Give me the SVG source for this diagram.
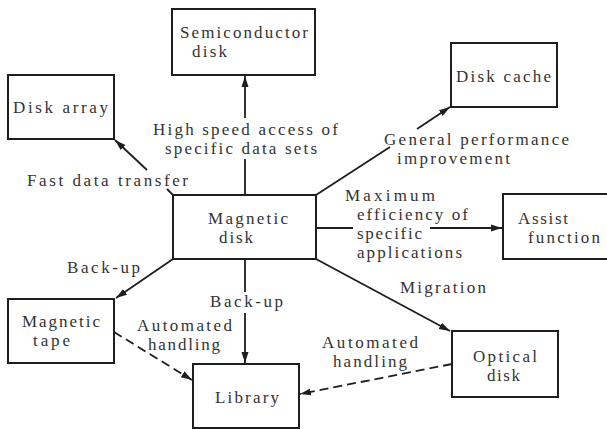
<svg xmlns="http://www.w3.org/2000/svg" width="607" height="430" viewBox="0 0 607 430">
  <style>
    .box { fill: #ffffff; stroke: #1e1e1e; stroke-width: 2; }
    .txt { font-family: "Liberation Serif", "Times New Roman", serif; font-size: 17px; fill: #333333; }
    .ln { fill: none; stroke: #1e1e1e; stroke-width: 1.8; }
    .dash { stroke-dasharray: 9 5; }
  </style>
  <defs>
    <marker id="arrow" markerUnits="userSpaceOnUse" markerWidth="12" markerHeight="10" refX="11" refY="5" orient="auto">
      <path d="M0,1.5 L11,5 L0,8.5 Z" fill="#1e1e1e"/>
    </marker>
  </defs>
  <rect width="607" height="430" fill="#ffffff"/>

  <!-- connectors, broken where their labels sit -->
  <g id="connectors">
    <line class="ln" x1="245" y1="195" x2="245" y2="159"/>
    <line class="ln" x1="245" y1="118" x2="245" y2="76" marker-end="url(#arrow)"/>

    <line class="ln" x1="173" y1="195" x2="167" y2="189"/>
    <line class="ln" x1="147" y1="170" x2="115" y2="140" marker-end="url(#arrow)"/>

    <line class="ln" x1="316" y1="195" x2="390" y2="147"/>
    <line class="ln" x1="417" y1="129" x2="450" y2="107" marker-end="url(#arrow)"/>

    <line class="ln" x1="316" y1="228" x2="353" y2="228"/>
    <line class="ln" x1="430" y1="228" x2="502" y2="228" marker-end="url(#arrow)"/>

    <line class="ln" x1="316" y1="259" x2="450" y2="331" marker-end="url(#arrow)"/>

    <line class="ln" x1="173" y1="259" x2="116" y2="298" marker-end="url(#arrow)"/>

    <line class="ln" x1="245" y1="259" x2="245" y2="292"/>
    <line class="ln" x1="245" y1="313" x2="245" y2="363" marker-end="url(#arrow)"/>

    <line class="ln dash" x1="114" y1="332" x2="192" y2="380" marker-end="url(#arrow)"/>
    <line class="ln dash" x1="452" y1="364" x2="300" y2="394" marker-end="url(#arrow)"/>

    <!-- connector labels -->
    <text class="txt" x="153" y="135" textLength="185" lengthAdjust="spacing">High speed access of</text>
    <text class="txt" x="165" y="154" textLength="152" lengthAdjust="spacing">specific data sets</text>
    <text class="txt" x="27" y="186" textLength="161" lengthAdjust="spacing">Fast data transfer</text>
    <text class="txt" x="384" y="145" textLength="185" lengthAdjust="spacing">General performance</text>
    <text class="txt" x="397" y="164" textLength="113" lengthAdjust="spacing">improvement</text>
    <text class="txt" x="345" y="201" textLength="90" lengthAdjust="spacing">Maximum</text>
    <text class="txt" x="357" y="220" textLength="111" lengthAdjust="spacing">efficiency of</text>
    <text class="txt" x="357" y="239" textLength="65" lengthAdjust="spacing">specific</text>
    <text class="txt" x="357" y="258" textLength="105" lengthAdjust="spacing">applications</text>
    <text class="txt" x="400" y="293" textLength="86" lengthAdjust="spacing">Migration</text>
    <text class="txt" x="67" y="273" textLength="73" lengthAdjust="spacing">Back-up</text>
    <text class="txt" x="210" y="307" textLength="73" lengthAdjust="spacing">Back-up</text>
    <text class="txt" x="137" y="331" textLength="95" lengthAdjust="spacing">Automated</text>
    <text class="txt" x="148" y="350" textLength="72" lengthAdjust="spacing">handling</text>
    <text class="txt" x="322" y="348" textLength="96" lengthAdjust="spacing">Automated</text>
    <text class="txt" x="333" y="367" textLength="74" lengthAdjust="spacing">handling</text>
  </g>

  <g id="semiconductor-disk">
    <rect class="box" x="172" y="9" width="143" height="66"/>
    <text class="txt" x="180" y="38" textLength="128" lengthAdjust="spacing">Semiconductor</text>
    <text class="txt" x="192" y="57" textLength="35" lengthAdjust="spacing">disk</text>
  </g>

  <g id="disk-array">
    <rect class="box" x="8" y="75" width="106" height="64"/>
    <text class="txt" x="13" y="113" textLength="95" lengthAdjust="spacing">Disk array</text>
  </g>

  <g id="disk-cache">
    <rect class="box" x="451" y="43" width="106" height="64"/>
    <text class="txt" x="456" y="82" textLength="95" lengthAdjust="spacing">Disk cache</text>
  </g>

  <g id="magnetic-disk">
    <rect class="box" x="173" y="195" width="143" height="64"/>
    <text class="txt" x="208" y="224" textLength="80" lengthAdjust="spacing">Magnetic</text>
    <text class="txt" x="219" y="243" textLength="34" lengthAdjust="spacing">disk</text>
  </g>

  <g id="assist-function">
    <rect class="box" x="503" y="194" width="110" height="65"/>
    <text class="txt" x="518" y="224" textLength="50" lengthAdjust="spacing">Assist</text>
    <text class="txt" x="528" y="243" textLength="72" lengthAdjust="spacing">function</text>
  </g>

  <g id="magnetic-tape">
    <rect class="box" x="8" y="299" width="106" height="64"/>
    <text class="txt" x="22" y="327" textLength="78" lengthAdjust="spacing">Magnetic</text>
    <text class="txt" x="33" y="346" textLength="37" lengthAdjust="spacing">tape</text>
  </g>

  <g id="library">
    <rect class="box" x="193" y="364" width="106" height="64"/>
    <text class="txt" x="215" y="403" textLength="64" lengthAdjust="spacing">Library</text>
  </g>

  <g id="optical-disk">
    <rect class="box" x="452" y="331" width="106" height="66"/>
    <text class="txt" x="473" y="362" textLength="64" lengthAdjust="spacing">Optical</text>
    <text class="txt" x="487" y="381" textLength="33" lengthAdjust="spacing">disk</text>
  </g>
</svg>
